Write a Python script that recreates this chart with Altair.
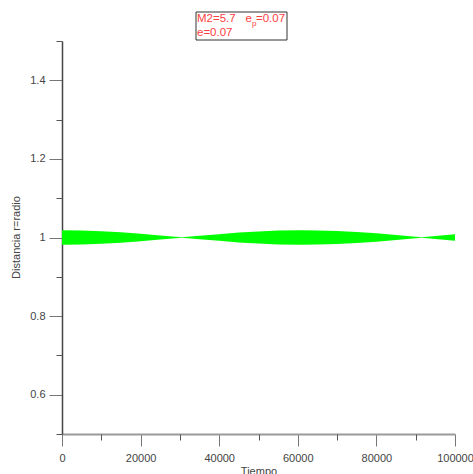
import altair as alt
import pandas as pd

# Data
tiempo = [0, 5000, 10000, 15000, 20000, 25000, 30500, 35000, 40000, 45000, 50000,
          55000, 61000, 65000, 70000, 75000, 80000, 85000, 91500, 95000, 100000]
dist_sup = [1.0187, 1.0180, 1.0162, 1.0132, 1.0095, 1.0052, 1.0005, 1.0042, 1.0085, 1.0125, 1.0155,
            1.0175, 1.0185, 1.0180, 1.0165, 1.0138, 1.0105, 1.0065, 1.0005, 1.0035, 1.0085]
dist_inf = [0.9813, 0.9820, 0.9838, 0.9868, 0.9905, 0.9948, 0.9995, 0.9958, 0.9915, 0.9875, 0.9845,
            0.9825, 0.9815, 0.9820, 0.9835, 0.9862, 0.9895, 0.9935, 0.9995, 0.9965, 0.9915]

y_major = [0.6, 0.8, 1.0, 1.2, 1.4]
y_minor = [0.5, 0.7, 0.9, 1.1, 1.3, 1.5]
x_major = [0, 20000, 40000, 60000, 80000, 100000]
x_minor = [10000, 30000, 50000, 70000, 90000]

df = pd.DataFrame({"t": tiempo, "hi": dist_sup, "lo": dist_inf})

FONT = "Liberation Sans"
xs = alt.Scale(domain=[0, 100000], nice=False, zero=False)
ys = alt.Scale(domain=[0.5, 1.5], nice=False, zero=False)

band = alt.Chart(df).mark_area(color="#00ff00", opacity=1).encode(
    x=alt.X("t:Q", scale=xs, axis=alt.Axis(
        title="Tiempo", values=x_major, format="d", tickSize=12, labelPadding=6,
        domainColor="#9a9a9a", domainWidth=2, tickColor="#777", labelColor="#444",
        labelFont=FONT, labelFontSize=11, titleFont=FONT, titleFontSize=11,
        titleFontWeight="normal", titleColor="#444", titleBaseline="top", titleY=31,
        grid=False, labelFlush=False)),
    y=alt.Y("hi:Q", scale=ys, axis=alt.Axis(
        title="Distancia r=radio", values=y_major, format=".1~f", tickSize=13, labelPadding=4,
        domainColor="#444", domainWidth=1.5, tickColor="#777", labelColor="#444",
        labelFont=FONT, labelFontSize=11, titleFont=FONT, titleFontSize=11,
        titleFontWeight="normal", titleColor="#444", titleAngle=-90, titleX=-46,
        titleY=196, titleAlign="center", titleBaseline="middle",
        grid=False, labelFlush=False)),
    y2="lo:Q",
)

minor = alt.Chart(df).mark_area(opacity=0).encode(
    x=alt.X("t:Q", scale=xs, axis=alt.Axis(
        orient="bottom", title=None, values=x_minor, labels=False, tickSize=6,
        domain=False, tickColor="#555", grid=False)),
    y=alt.Y("hi:Q", scale=ys, axis=alt.Axis(
        orient="left", title=None, values=y_minor, labels=False, tickSize=6,
        domain=False, tickColor="#555", grid=False)),
    y2="lo:Q",
)

one = alt.Data(values=[{"k": 1}])
RED = "#ff4040"
box = alt.Chart(one).mark_rect(fillOpacity=0, stroke="#333", strokeWidth=1).encode(
    x=alt.value(134), x2=alt.value(225), y=alt.value(-29), y2=alt.value(-1))
t1 = alt.Chart(one).mark_text(text="M2=5.7", align="left", baseline="middle",
                              font=FONT, fontSize=11.5, color=RED).encode(
    x=alt.value(135), y=alt.value(-22))
t2 = alt.Chart(one).mark_text(text="e", align="left", baseline="middle",
                              font=FONT, fontSize=11.5, color=RED).encode(
    x=alt.value(183.5), y=alt.value(-22))
t3 = alt.Chart(one).mark_text(text="p", align="left", baseline="middle",
                              font=FONT, fontSize=8, color=RED).encode(
    x=alt.value(190), y=alt.value(-17))
t4 = alt.Chart(one).mark_text(text="=0.07", align="left", baseline="middle",
                              font=FONT, fontSize=11.5, color=RED).encode(
    x=alt.value(194), y=alt.value(-22))
t5 = alt.Chart(one).mark_text(text="e=0.07", align="left", baseline="middle",
                              font=FONT, fontSize=11.5, color=RED).encode(
    x=alt.value(135), y=alt.value(-8))

chart = alt.layer(band, minor, box, t1, t2, t3, t4, t5).resolve_axis(
    x="independent", y="independent"
).properties(
    width=393, height=393,
    autosize=alt.AutoSizeParams(type="none"),
    padding={"left": 62, "top": 41, "right": 18, "bottom": 40},
    background="white",
).configure_view(stroke=None)

chart.save("out.html", embed_options={"renderer": "svg", "actions": False})
